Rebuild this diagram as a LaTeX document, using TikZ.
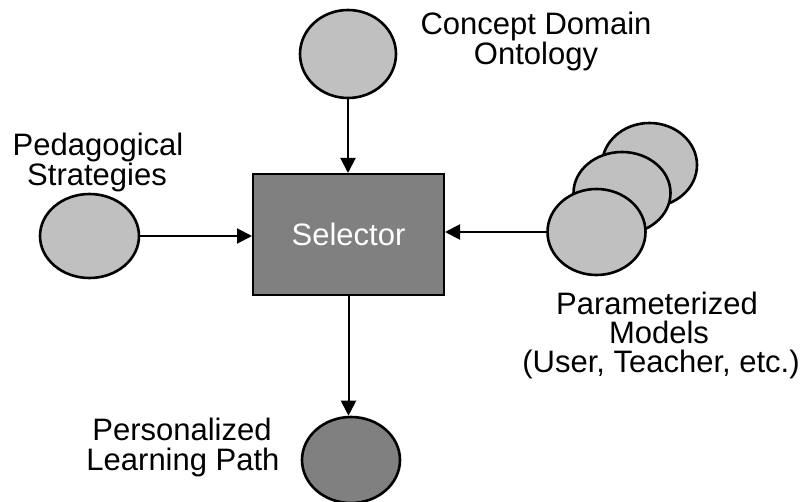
\documentclass[tikz,border=0pt]{standalone}
\usepackage{fontspec}
\setmainfont{Liberation Sans}
\usetikzlibrary{shapes.geometric,arrows.meta}
\definecolor{lightfill}{HTML}{C0C0C0}
\definecolor{darkfill}{HTML}{808080}
\tikzset{
  blob/.style={ellipse, draw=black, line width=2.6pt, fill=lightfill, inner sep=0pt},
  darkblob/.style={blob, fill=darkfill},
  selbox/.style={rectangle, draw=black, line width=2pt, fill=darkfill, inner sep=0pt,
                 minimum width=191pt, minimum height=121pt, text=white,
                 font=\fontsize{31}{31}\selectfont},
  lbl/.style={anchor=base, inner sep=0pt, font=\fontsize{31}{31}\selectfont},
  link/.style={line width=2pt, -{Triangle[length=15pt,width=15pt]}}
}
\begin{document}
\begin{tikzpicture}[x=1pt,y=-1pt]
  \useasboundingbox (0,0) rectangle (805,502);

  % central selector
  \node[selbox] (sel) at (348.5,234.5) {Selector};

  % concept domain ontology
  \node[blob, minimum width=96pt, minimum height=88pt] (con) at (348,54) {};
  \node[lbl] (con1) at (536,35) {Concept Domain};
  \node[lbl] (con2) at (536,65) {Ontology};

  % pedagogical strategies
  \node[blob, minimum width=99pt, minimum height=84pt] (ped) at (89.5,236) {};
  \node[lbl] (ped1) at (98,156) {Pedagogical};
  \node[lbl] (ped2) at (97,186) {Strategies};

  % stacked parameterized models (back to front)
  \node[blob, minimum width=95pt, minimum height=84pt] (m3) at (649.5,165) {};
  \node[blob, minimum width=97pt, minimum height=82pt] (m2) at (622,193) {};
  \node[blob, minimum width=98pt, minimum height=86pt] (m1) at (596.5,232) {};
  \node[lbl] (par1) at (657,315) {Parameterized};
  \node[lbl] (par2) at (659,343) {Models};
  \node[lbl] (par3) at (661,372) {(User, Teacher, etc.)};

  % personalized learning path
  \node[darkblob, minimum width=98pt, minimum height=86pt] (pl) at (351,460) {};
  \node[lbl] (pl1) at (182,440) {Personalized};
  \node[lbl] (pl2) at (183,470) {Learning Path};

  % connectors
  \draw[link] (con.south) -- (con.south |- sel.north);
  \draw[link] (ped.east) -- (ped.east -| sel.west);
  \draw[link] (m1.west) -- (m1.west -| sel.east);
  \draw[link] (sel.south) -- (sel.south |- pl.north);
\end{tikzpicture}
\end{document}
